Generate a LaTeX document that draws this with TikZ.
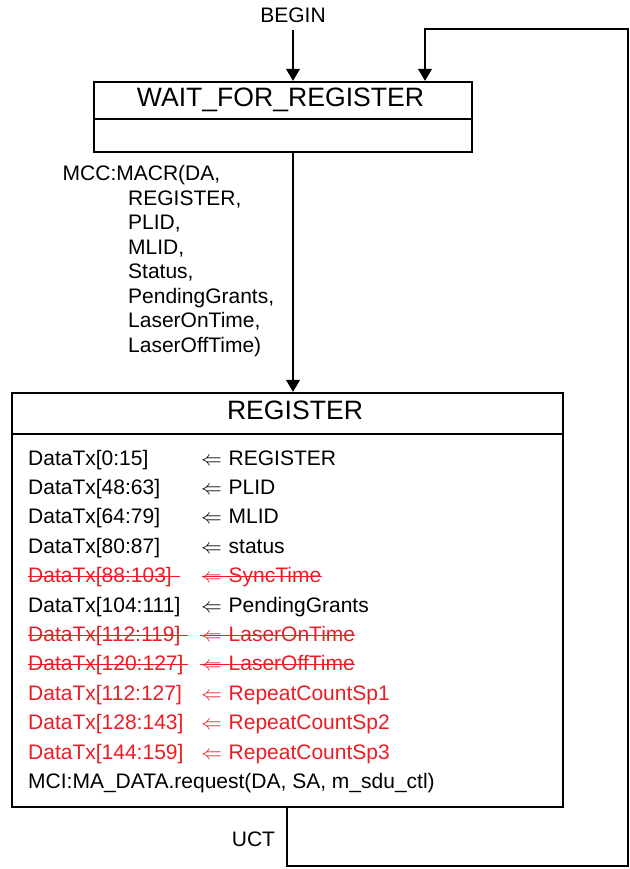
\documentclass[tikz,border=0pt]{standalone}
\usepackage{fontspec}
\setmainfont{Liberation Sans}
\usetikzlibrary{arrows.meta}
\definecolor{strk}{RGB}{237,28,36}
\begin{document}
\begin{tikzpicture}[x=1pt,y=-1pt,
  statebox/.style={draw, line width=2.4pt, inner sep=0pt},
  divider/.style={line width=2.4pt},
  conn/.style={line width=1.2pt},
  arr/.style={conn, -{Triangle[width=14pt,length=12pt]}},
  body/.style={font=\fontsize{21}{24}\selectfont, inner sep=0pt, anchor=base west},
  redtxt/.style={body, text=strk},
  ttl/.style={font=\fontsize{26.6}{30}\selectfont, inner sep=0pt, anchor=base},
  lbl/.style={font=\fontsize{21}{24}\selectfont, inner sep=0pt, anchor=base},
  strike/.style={draw=strk, line width=1pt}]
\useasboundingbox (0,0) rectangle (629,869);

% state boxes
\node[statebox, minimum width=378pt, minimum height=70pt] (wait) at (283,117) {};
\draw[divider] (wait.west |- 0,119) -- (wait.east |- 0,119);
\node[ttl] (waitt) at (280.5,107) {WAIT\_FOR\_REGISTER};

\node[statebox, minimum width=551pt, minimum height=414pt] (reg) at (287.5,600) {};
\draw[divider] (reg.west |- 0,434) -- (reg.east |- 0,434);
\node[ttl] (regt) at (295,419) {REGISTER};

% begin
\node[lbl] (begin) at (293,23) {BEGIN};
\coordinate (bstart) at (293,30);
\draw[arr] (bstart) -- (bstart |- wait.north);

% transition wait -> register
\draw[arr] (wait.south -| bstart) -- (bstart |- reg.north);
\node[body] (m1) at (62.5,180.5) {MCC:MACR(DA,};
\node[body] (m2) at (128,205) {REGISTER,};
\node[body] (m3) at (128,229.5) {PLID,};
\node[body] (m4) at (128,254) {MLID,};
\node[body] (m5) at (128,278.5) {Status,};
\node[body] (m6) at (128,303) {PendingGrants,};
\node[body] (m7) at (128,327.5) {LaserOnTime,};
\node[body] (m8) at (128,352) {LaserOffTime)};

% loop back (UCT)
\coordinate (c1) at (287,866);
\coordinate (c2) at (628,866);
\coordinate (c3) at (628,29);
\coordinate (c4) at (425,29);
\draw[arr] (reg.south -| c1) -- (c1) -- (c2) -- (c3) -- (c4) -- (c4 |- wait.north);
\node[lbl] (uct) at (253.5,846) {UCT};

% register body
\node[body] (r1a) at (28,465) {DataTx[0:15]};
\node[body] (r1b) at (201,465) {$\Leftarrow$};
\node[body] (r1c) at (228.5,465) {REGISTER};

\node[body] (r2a) at (28,494.4) {DataTx[48:63]};
\node[body] (r2b) at (201,494.4) {$\Leftarrow$};
\node[body] (r2c) at (228.5,494.4) {PLID};

\node[body] (r3a) at (28,523.8) {DataTx[64:79]};
\node[body] (r3b) at (201,523.8) {$\Leftarrow$};
\node[body] (r3c) at (228.5,523.8) {MLID};

\node[body] (r4a) at (28,553.2) {DataTx[80:87]};
\node[body] (r4b) at (201,553.2) {$\Leftarrow$};
\node[body] (r4c) at (228.5,553.2) {status};

\node[redtxt] (r5a) at (28,582.6) {DataTx[88:103]};
\node[redtxt] (r5b) at (201,582.6) {$\Leftarrow$};
\node[redtxt] (r5c) at (228.5,582.6) {SyncTime};
\draw[strike] (28,576.6) -- (180,576.6);
\draw[strike] (202,576.6) -- (322,576.6);

\node[body] (r6a) at (28,612) {DataTx[104:111]};
\node[body] (r6b) at (201,612) {$\Leftarrow$};
\node[body] (r6c) at (228.5,612) {PendingGrants};

\node[redtxt] (r7a) at (28,641.4) {DataTx[112:119]};
\node[redtxt] (r7b) at (201,641.4) {$\Leftarrow$};
\node[redtxt] (r7c) at (228.5,641.4) {LaserOnTime};
\draw[strike] (28,635.4) -- (188,635.4);
\draw[strike] (200,635.4) -- (355,635.4);

\node[redtxt] (r8a) at (28,670.8) {DataTx[120:127]};
\node[redtxt] (r8b) at (201,670.8) {$\Leftarrow$};
\node[redtxt] (r8c) at (228.5,670.8) {LaserOffTime};
\draw[strike] (28,664.8) -- (188,664.8);
\draw[strike] (200,664.8) -- (355,664.8);

\node[redtxt] (r9a) at (28,700.2) {DataTx[112:127]};
\node[redtxt] (r9b) at (201,700.2) {$\Leftarrow$};
\node[redtxt] (r9c) at (228.5,700.2) {RepeatCountSp1};

\node[redtxt] (r10a) at (28,729.6) {DataTx[128:143]};
\node[redtxt] (r10b) at (201,729.6) {$\Leftarrow$};
\node[redtxt] (r10c) at (228.5,729.6) {RepeatCountSp2};

\node[redtxt] (r11a) at (28,759) {DataTx[144:159]};
\node[redtxt] (r11b) at (201,759) {$\Leftarrow$};
\node[redtxt] (r11c) at (228.5,759) {RepeatCountSp3};

\node[body] (r12) at (28,788.4) {MCI:MA\_DATA.request(DA, SA, m\_sdu\_ctl)};
\end{tikzpicture}
\end{document}
